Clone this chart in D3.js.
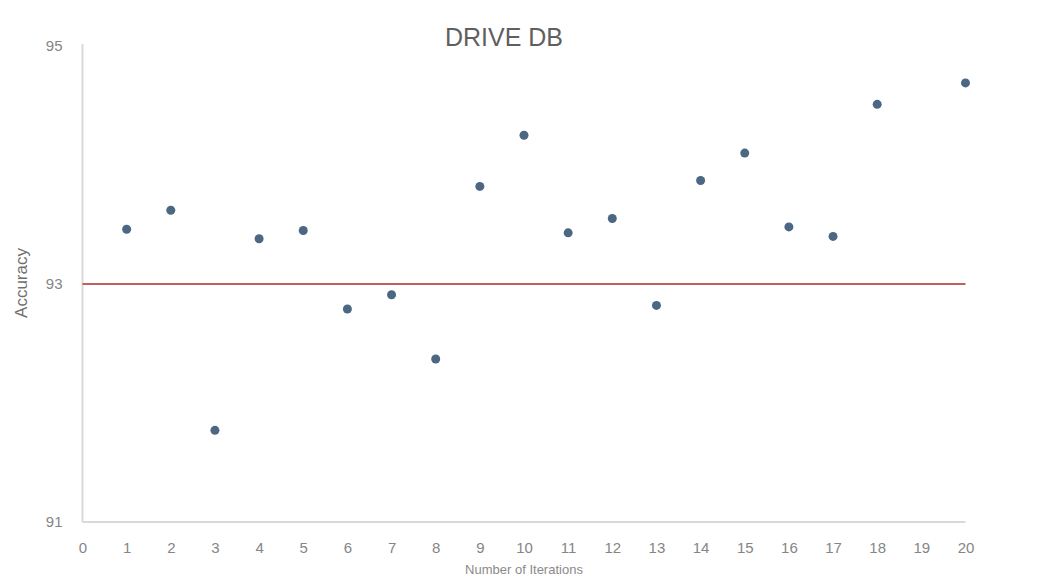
<!DOCTYPE html>
<html>
<head>
<meta charset="utf-8">
<script src="https://cdn.jsdelivr.net/npm/d3@7"></script>
<style>
  html, body { margin: 0; padding: 0; background: #ffffff; }
  svg { display: block; font-family: "Liberation Sans", Arial, sans-serif; }
</style>
</head>
<body>
<svg id="chart" width="1038" height="576"></svg>
<script>
// ---- data ----
const runs = [1, 2, 3, 4, 5, 6, 7, 8, 9, 10, 11, 12, 13, 14, 15, 16, 17, 18, 20];
const accuracy = [93.46, 93.62, 91.77, 93.38, 93.45, 92.79, 92.91, 92.37, 93.82, 94.25,
                  93.43, 93.55, 92.82, 93.87, 94.10, 93.48, 93.40, 94.51, 94.69];
const threshold = 93;
const xTicks = d3.range(0, 21);
const yTicks = [91, 93, 95];
const title = "DRIVE DB";
const yTitle = "Accuracy";
const xTitle = "Number of Iterations";

// ---- layout ----
const svg = d3.select("#chart");
const mLeft = 82.5, mRight = 965.5, mTop = 46, mBottom = 522;

const x = d3.scaleLinear().domain([0, 20]).range([mLeft, mRight]);
const y = d3.scaleLinear().domain([91, 95]).range([mBottom, mTop]);

// axis lines
svg.append("line")
  .attr("x1", mLeft).attr("x2", mLeft)
  .attr("y1", y(95) - 2).attr("y2", mBottom)
  .attr("stroke", "#d9d9d9").attr("stroke-width", 2);
svg.append("line")
  .attr("x1", mLeft).attr("x2", mRight)
  .attr("y1", mBottom).attr("y2", mBottom)
  .attr("stroke", "#d9d9d9").attr("stroke-width", 2);

// x axis tick labels
const xAxis = d3.axisBottom(x).tickValues(xTicks).tickSize(0).tickPadding(0).tickFormat(d3.format("d"));
const gx = svg.append("g").attr("transform", `translate(0,${mBottom + 26})`).call(xAxis);
gx.select(".domain").remove();
gx.selectAll("text")
  .attr("fill", "#858585").attr("font-size", 15).attr("dy", "0.32em")
  .attr("font-family", "'Liberation Sans', Arial, sans-serif");

// y axis tick labels
const yAxis = d3.axisLeft(y).tickValues(yTicks).tickSize(0).tickPadding(20).tickFormat(d3.format("d"));
const gy = svg.append("g").attr("transform", `translate(${mLeft},0)`).call(yAxis);
gy.select(".domain").remove();
gy.selectAll("text")
  .attr("fill", "#858585").attr("font-size", 15)
  .attr("font-family", "'Liberation Sans', Arial, sans-serif");

// threshold line
svg.append("line")
  .attr("x1", x(0)).attr("x2", x(20))
  .attr("y1", y(threshold)).attr("y2", y(threshold))
  .attr("stroke", "#c4605c").attr("stroke-width", 2);

// points
svg.append("g").selectAll("circle")
  .data(runs.map((r, i) => ({ r, v: accuracy[i] })))
  .join("circle")
  .attr("cx", d => x(d.r))
  .attr("cy", d => y(d.v))
  .attr("r", 4.5)
  .attr("fill", "#4b6784");

// title
svg.append("text")
  .attr("x", 504).attr("y", 46)
  .attr("text-anchor", "middle")
  .attr("font-size", 25)
  .attr("fill", "#5f5f5f")
  .text(title);

// y title
svg.append("text")
  .attr("transform", `translate(27,283) rotate(-90)`)
  .attr("text-anchor", "middle")
  .attr("font-size", 17)
  .attr("fill", "#6f6f6f")
  .text(yTitle);

// x title (at the bottom edge)
svg.append("text")
  .attr("x", (mLeft + mRight) / 2).attr("y", 574)
  .attr("text-anchor", "middle")
  .attr("font-size", 13)
  .attr("fill", "#8a8a8a")
  .text(xTitle);
</script>
</body>
</html>
